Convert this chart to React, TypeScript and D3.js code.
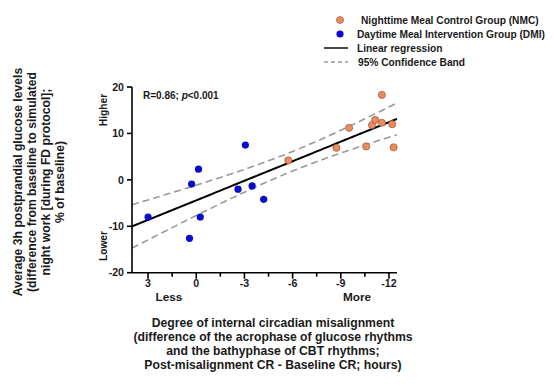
import * as d3 from "d3";

// Daytime Meal Intervention group (blue)
const dmiX = [3.0, 0.42, 0.29, -0.14, -0.25, -2.6, -3.06, -3.48, -4.2];
const dmiY = [-8.0, -12.6, -0.9, 2.3, -8.0, -2.0, 7.5, -1.3, -4.2];
// Nighttime Meal Control group (orange)
const nmcX = [-5.73, -8.73, -9.52, -10.58, -10.94, -11.14, -11.56, -11.56, -12.2, -12.29];
const nmcY = [4.2, 6.9, 11.2, 7.2, 11.8, 12.9, 18.3, 12.3, 12.0, 7.0];

const xTicks = [3, 0, -3, -6, -9, -12];
const xMinor = [1.5, -1.5, -4.5, -7.5, -10.5];
const yTicks = [20, 10, 0, -10, -20];

const yTitle = [
  "Average 3h postprandial glucose levels",
  "(difference from baseline to simulated",
  "night work [during FD protocol];",
  "% of baseline)",
];
const xTitle = [
  "Degree of internal circadian misalignment",
  "(difference of the acrophase of glucose rhythms",
  "and the bathyphase of CBT rhythms;",
  "Post-misalignment CR - Baseline CR; hours)",
];

const T_CRIT = 2.11; // t(0.975, df=17)

const ORANGE = "#ef8a5a";
const BLUE = "#0a0ad0";
const INK = "#1a1a1a";
const FONT = "'Liberation Sans', Arial, sans-serif";

function fit(xs: number[], ys: number[]) {
  const n = xs.length;
  const mx = d3.mean(xs)!;
  const my = d3.mean(ys)!;
  const sxx = d3.sum(xs, (x) => (x - mx) ** 2);
  const sxy = d3.sum(xs, (x, i) => (x - mx) * (ys[i] - my));
  const b = sxy / sxx;
  const a = my - b * mx;
  const sse = d3.sum(xs, (x, i) => (ys[i] - (a + b * x)) ** 2);
  const s = Math.sqrt(sse / (n - 2));
  const half = (x: number) => T_CRIT * s * Math.sqrt(1 / n + (x - mx) ** 2 / sxx);
  return { a, b, half };
}

export default function App() {
  const W = 554;
  const H = 387;
  const x = d3.scaleLinear().domain([4, -12.5]).range([132, 397]);
  const y = d3.scaleLinear().domain([-20, 20]).range([272.7, 87]);

  const allX = [...dmiX, ...nmcX];
  const allY = [...dmiY, ...nmcY];
  const { a, b, half } = fit(allX, allY);
  const grid = d3.range(4, -12.55, -0.25);
  const line = d3
    .line<number>()
    .x((d) => x(d))
    .y((d) => y(a + b * d));
  const upper = d3
    .line<number>()
    .x((d) => x(d))
    .y((d) => y(a + b * d + half(d)));
  const lower = d3
    .line<number>()
    .x((d) => x(d))
    .y((d) => y(a + b * d - half(d)));

  const [x0, x1] = x.range();
  const [yb, yt] = y.range();

  return (
    <svg
      width={W}
      height={H}
      style={{ position: "fixed", left: 0, top: 0, background: "#fff" }}
      fontFamily={FONT}
      fontWeight="bold"
      fill={INK}
    >
      {/* legend */}
      <g fontSize={10.2}>
        <circle cx={340} cy={20} r={3.6} fill={ORANGE} stroke="#8a5a40" strokeWidth={0.6} />
        <text x={361} y={20} dy="0.35em">Nighttime Meal Control Group (NMC)</text>
        <circle cx={340} cy={34} r={3.6} fill={BLUE} />
        <text x={357} y={34} dy="0.35em">Daytime Meal Intervention Group (DMI)</text>
        <line x1={324} x2={348} y1={48} y2={48} stroke={INK} strokeWidth={1.6} />
        <text x={357} y={48} dy="0.35em">Linear regression</text>
        <line x1={324} x2={348} y1={62} y2={62} stroke="#999" strokeWidth={1.4} strokeDasharray="4,3" />
        <text x={358} y={62} dy="0.35em">95% Confidence Band</text>
      </g>

      {/* confidence band + regression */}
      <path d={upper(grid)!} fill="none" stroke="#9a9a9a" strokeWidth={1.6} strokeDasharray="7,4" />
      <path d={lower(grid)!} fill="none" stroke="#9a9a9a" strokeWidth={1.6} strokeDasharray="7,4" />
      <path d={line(grid)!} fill="none" stroke="#000" strokeWidth={2} />

      {/* points */}
      {dmiX.map((d, i) => (
        <circle key={"d" + i} cx={x(d)} cy={y(dmiY[i])} r={3.6} fill={BLUE} />
      ))}
      {nmcX.map((d, i) => (
        <circle key={"n" + i} cx={x(d)} cy={y(nmcY[i])} r={3.6} fill={ORANGE} stroke="#7a5040" strokeWidth={0.6} />
      ))}

      {/* axes */}
      <g stroke="#000" strokeWidth={1.6}>
        <line x1={x0} x2={x0} y1={yt} y2={yb} />
        <line x1={x0} x2={x1} y1={yb} y2={yb} />
        {yTicks.map((t) => (
          <line key={t} x1={x0 - 5} x2={x0} y1={y(t)} y2={y(t)} />
        ))}
        {xTicks.map((t) => (
          <line key={t} x1={x(t)} x2={x(t)} y1={yb} y2={yb + 6} />
        ))}
        {xMinor.map((t) => (
          <line key={t} x1={x(t)} x2={x(t)} y1={yb} y2={yb + 4} />
        ))}
      </g>
      <g fontSize={10.6} textAnchor="end">
        {yTicks.map((t) => (
          <text key={t} x={x0 - 8} y={y(t)} dy="0.35em">{t}</text>
        ))}
      </g>
      <g fontSize={10.6} textAnchor="middle">
        {xTicks.map((t) => (
          <text key={t} x={x(t)} y={283} dy="0.35em">{t}</text>
        ))}
      </g>

      {/* annotations */}
      <text x={143} y={95} dy="0.35em" fontSize={10}>
        R=0.86; <tspan fontStyle="italic">p</tspan>&lt;0.001
      </text>
      <g fontSize={11.8} textAnchor="middle">
        <text x={169} y={297} dy="0.35em">Less</text>
        <text x={357} y={297} dy="0.35em">More</text>
      </g>
      <g fontSize={10.2} textAnchor="middle">
        <text transform="translate(103,110) rotate(-90)" dy="0.35em">Higher</text>
        <text transform="translate(103,246) rotate(-90)" dy="0.35em">Lower</text>
      </g>

      {/* axis titles */}
      <g fontSize={12.2} textAnchor="middle">
        {xTitle.map((s, i) => (
          <text key={i} x={273} y={323 + i * 14} dy="0.35em">{s}</text>
        ))}
        {yTitle.map((s, i) => (
          <text key={i} transform={`translate(${18 + i * 14},182) rotate(-90)`} dy="0.35em">{s}</text>
        ))}
      </g>
    </svg>
  );
}
